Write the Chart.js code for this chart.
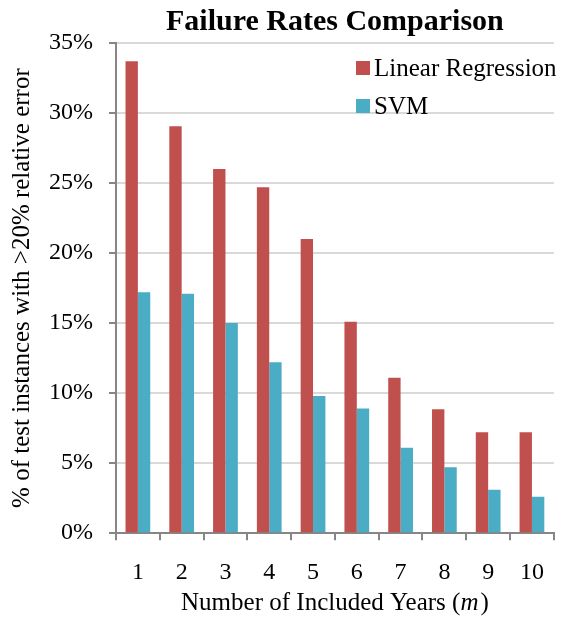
<!DOCTYPE html>
<html>
<head>
<meta charset="utf-8">
<script src="https://cdn.jsdelivr.net/npm/chart.js@4"></script>
<style>
  html, body { margin: 0; padding: 0; background: #fff; }
  #wrap { width: 562px; height: 618px; }
</style>
</head>
<body>
<div id="wrap"><canvas id="chart" width="562" height="618"></canvas></div>
<script>
// dados
const categories = ['1', '2', '3', '4', '5', '6', '7', '8', '9', '10'];
const linearRegression = [33.7, 29.05, 26.0, 24.7, 21.0, 15.1, 11.1, 8.85, 7.2, 7.2];
const svm = [17.2, 17.1, 15.0, 12.2, 9.8, 8.9, 6.1, 4.7, 3.1, 2.6];
const yTicks = [0, 5, 10, 15, 20, 25, 30, 35];
const seriesNames = ['Linear Regression', 'SVM'];
const titleText = 'Failure Rates Comparison';
const xTitle = 'Number of Included Years (';
const xTitleVar = 'm';
const yTitle = '% of test instances with >20% relative error';

const FONT = '"Liberation Serif", "Times New Roman", serif';

// título, legenda e título do eixo x desenhados à mão
const decor = {
  id: 'decor',
  afterDraw(chart) {
    const { ctx, chartArea } = chart;
    const cx = (chartArea.left + chartArea.right) / 2;
    ctx.save();
    ctx.fillStyle = '#000';
    ctx.font = 'bold 30px ' + FONT;
    ctx.textAlign = 'center';
    ctx.textBaseline = 'alphabetic';
    ctx.fillText(titleText, cx, 30);

    // legenda
    ctx.font = '25px ' + FONT;
    ctx.textAlign = 'left';
    ctx.textBaseline = 'middle';
    chart.data.datasets.forEach((ds, i) => {
      const y = 68 + i * 38;
      ctx.fillStyle = ds.backgroundColor;
      ctx.fillRect(356, y - 7, 14, 14);
      ctx.fillStyle = '#000';
      ctx.fillText(ds.label, 374, y + 1);
    });

    // título do eixo x com o "m" em itálico
    ctx.textBaseline = 'alphabetic';
    const f1 = '25px ' + FONT, f2 = 'italic 25px ' + FONT;
    ctx.font = f1;
    const w1 = ctx.measureText(xTitle).width;
    const w3 = ctx.measureText(')').width;
    ctx.font = f2;
    const w2 = ctx.measureText(xTitleVar).width + 2;
    let x = cx - (w1 + w2 + w3) / 2;
    const yb = 610;
    ctx.font = f1; ctx.fillText(xTitle, x, yb); x += w1;
    ctx.font = f2; ctx.fillText(xTitleVar, x, yb); x += w2;
    ctx.font = f1; ctx.fillText(')', x, yb);
    ctx.restore();
  }
};

new Chart(document.getElementById('chart').getContext('2d'), {
  type: 'bar',
  data: {
    labels: categories,
    datasets: [
      { label: seriesNames[0], data: linearRegression, backgroundColor: '#c0504d' },
      { label: seriesNames[1], data: svm, backgroundColor: '#4bacc6' }
    ]
  },
  options: {
    responsive: false,
    animation: false,
    layout: { padding: { top: 43, right: 1, bottom: 13, left: 0 } },
    datasets: { bar: { categoryPercentage: 0.565, barPercentage: 1 } },
    scales: {
      x: {
        grid: { display: true, drawOnChartArea: false, offset: true, tickLength: 7, color: '#868686', lineWidth: 2 },
        border: { color: '#868686', width: 2 },
        ticks: { color: '#000', font: { family: FONT, size: 24 }, padding: 18 }
      },
      y: {
        min: 0, max: 35,
        afterBuildTicks(scale) { scale.ticks = yTicks.map(v => ({ value: v })); },
        afterFit(scale) { scale.width = 116; },
        grid: { color: '#d9d9d9', lineWidth: 2, tickLength: 7, tickColor: '#868686' },
        border: { color: '#868686', width: 2 },
        ticks: { color: '#000', font: { family: FONT, size: 24 }, padding: 16, callback: v => v + '%' },
        title: { display: true, text: yTitle, color: '#000', font: { family: FONT, size: 25 }, padding: { top: 7, bottom: 0 } }
      }
    },
    plugins: { legend: { display: false }, tooltip: { enabled: false } }
  },
  plugins: [decor]
});
</script>
</body>
</html>
